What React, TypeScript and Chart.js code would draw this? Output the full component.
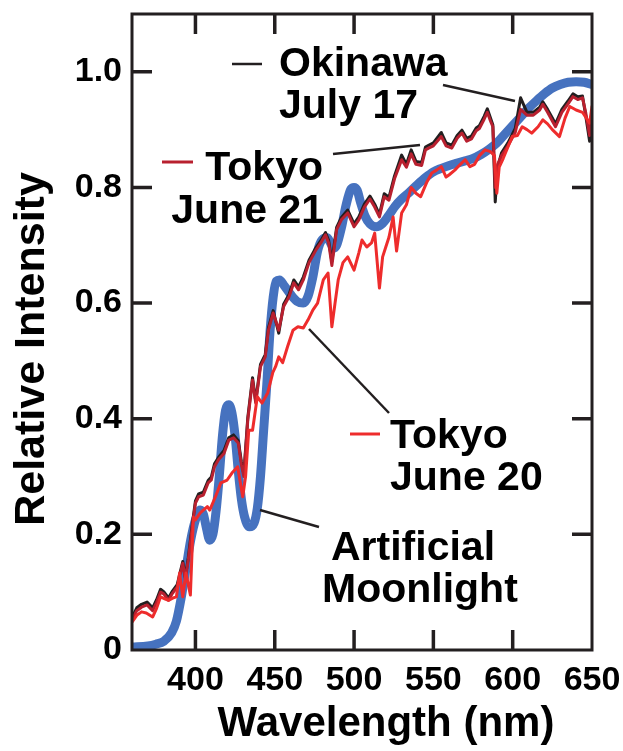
import React, { useEffect, useRef } from 'react';
import { Chart, registerables } from 'chart.js';

Chart.register(...registerables);

const FONT = '"Liberation Sans", Arial, Helvetica, sans-serif';

// Axis ticks
const xTicks = [400, 450, 500, 550, 600, 650];
const yTicks = [0, 0.2, 0.4, 0.6, 0.8, 1.0];

// Artificial Moonlight (blue, thick)
const moonNm = [360, 370, 375, 380, 385, 388, 391, 394, 397, 400, 403, 405, 407, 409, 411, 413, 415, 417, 419, 421, 423, 425, 427, 429, 431, 434, 437, 439, 441, 443, 445, 447, 449, 451, 453, 456, 460, 464, 468, 471, 474, 477, 480, 483, 485, 487, 489, 492, 495, 498, 500, 502, 504, 507, 510, 514, 518, 522, 526, 530, 535, 540, 545, 550, 555, 560, 565, 570, 575, 580, 585, 590, 595, 600, 605, 610, 615, 620, 625, 630, 635, 640, 645, 650];
const moonVal = [0.005, 0.007, 0.01, 0.015, 0.03, 0.05, 0.09, 0.14, 0.19, 0.225, 0.242, 0.235, 0.21, 0.19, 0.2, 0.24, 0.3, 0.37, 0.415, 0.424, 0.41, 0.37, 0.31, 0.26, 0.23, 0.213, 0.22, 0.245, 0.3, 0.38, 0.46, 0.55, 0.61, 0.638, 0.64, 0.63, 0.615, 0.603, 0.6, 0.612, 0.645, 0.69, 0.71, 0.713, 0.705, 0.695, 0.7, 0.73, 0.77, 0.797, 0.8, 0.795, 0.775, 0.75, 0.737, 0.732, 0.738, 0.752, 0.768, 0.78, 0.792, 0.805, 0.817, 0.827, 0.833, 0.838, 0.842, 0.846, 0.85, 0.857, 0.866, 0.877, 0.892, 0.907, 0.922, 0.937, 0.95, 0.962, 0.972, 0.978, 0.982, 0.983, 0.982, 0.978];

// Tokyo June 21 (dark red)
const tokyo21Nm = [360, 363, 366, 369.5, 373, 375.5, 378, 380, 383, 385.5, 388.5, 392, 393.6, 395.5, 398, 400, 402, 405, 408, 410, 412, 414.5, 418, 421, 424, 427, 429, 430.5, 433, 436, 438, 441, 444, 446, 449, 452.5, 455.6, 459, 462, 465, 468, 471.6, 476, 479, 482, 484, 486, 489, 492, 496, 500, 503, 506.5, 510, 513, 516, 519, 522, 525.5, 530, 533, 536, 539, 542.6, 545, 547, 550, 555, 558, 561.6, 565, 568, 571, 574, 577, 579, 582, 584, 586, 587.5, 589, 590.5, 593, 597, 601.6, 605, 609, 613, 617, 619, 622, 625, 627, 631, 635, 638, 641, 644, 646, 648.5, 650];
const tokyo21Val = [0.052, 0.068, 0.074, 0.078, 0.068, 0.082, 0.1, 0.097, 0.086, 0.098, 0.109, 0.15, 0.122, 0.156, 0.213, 0.254, 0.265, 0.268, 0.289, 0.294, 0.317, 0.329, 0.34, 0.363, 0.367, 0.358, 0.32, 0.3, 0.398, 0.467, 0.427, 0.49, 0.507, 0.553, 0.583, 0.553, 0.594, 0.611, 0.635, 0.623, 0.64, 0.67, 0.692, 0.704, 0.718, 0.704, 0.665, 0.727, 0.744, 0.756, 0.732, 0.744, 0.766, 0.78, 0.766, 0.749, 0.784, 0.778, 0.815, 0.848, 0.835, 0.858, 0.84, 0.838, 0.865, 0.868, 0.872, 0.888, 0.872, 0.868, 0.885, 0.894, 0.88, 0.884, 0.898, 0.902, 0.918, 0.93, 0.915, 0.905, 0.8, 0.84, 0.855, 0.872, 0.895, 0.935, 0.925, 0.925, 0.934, 0.944, 0.93, 0.915, 0.905, 0.93, 0.945, 0.957, 0.952, 0.955, 0.93, 0.89, 0.93];

// Okinawa July 17 (black)
const okinawaNm = [360, 363, 366, 369.5, 373, 375.5, 378, 380, 383, 385.5, 388.5, 392, 393.6, 395.5, 398, 400, 402, 405, 408, 410, 412, 414.5, 418, 421, 424, 427, 429, 430.5, 433, 436, 438, 441, 444, 446, 449, 452.5, 455.6, 459, 462, 465, 468, 471.6, 476, 479, 482, 484, 486, 489, 492, 496, 500, 503, 506.5, 510, 513, 516, 519, 522, 525.5, 530, 533, 536, 539, 542.6, 545, 547, 550, 555, 558, 561.6, 565, 568, 571, 574, 577, 579, 582, 584, 586, 587.5, 589, 590.5, 593, 597, 601.6, 605, 609, 613, 617, 619, 622, 625, 627, 631, 635, 638, 641, 644, 646, 648.5, 650];
const okinawaVal = [0.056, 0.073, 0.079, 0.083, 0.073, 0.087, 0.105, 0.101, 0.09, 0.102, 0.113, 0.153, 0.126, 0.16, 0.217, 0.258, 0.27, 0.273, 0.293, 0.299, 0.322, 0.333, 0.345, 0.367, 0.372, 0.362, 0.325, 0.305, 0.402, 0.471, 0.43, 0.494, 0.511, 0.557, 0.587, 0.548, 0.598, 0.615, 0.64, 0.628, 0.645, 0.674, 0.696, 0.708, 0.722, 0.708, 0.672, 0.731, 0.748, 0.761, 0.737, 0.749, 0.771, 0.785, 0.771, 0.753, 0.789, 0.783, 0.82, 0.856, 0.84, 0.865, 0.845, 0.843, 0.87, 0.873, 0.877, 0.895, 0.877, 0.873, 0.89, 0.899, 0.885, 0.889, 0.903, 0.907, 0.923, 0.936, 0.92, 0.908, 0.775, 0.835, 0.86, 0.877, 0.902, 0.955, 0.93, 0.93, 0.939, 0.948, 0.935, 0.92, 0.91, 0.935, 0.95, 0.962, 0.957, 0.958, 0.925, 0.88, 0.925];

// Tokyo June 20 (bright red)
const tokyo20Nm = [360, 363, 366, 369, 373, 375.5, 378, 381, 383, 386, 388, 390, 392, 394, 396.8, 398.7, 400, 403, 407.5, 409, 412.6, 416, 420, 423, 426.6, 429.8, 431.6, 433.6, 436, 439, 442, 445.6, 448.8, 450.5, 452.5, 455, 458, 461.5, 464.6, 468, 471, 474, 477, 480.6, 483.6, 486, 488, 490, 493, 496, 500, 503, 505, 508, 511, 513, 516, 518, 520, 522, 524.6, 526.8, 530, 533, 536, 539, 542, 546, 549, 552, 555, 558, 560, 563.5, 567, 570, 573, 576, 579, 582.6, 586, 588.5, 590, 591.5, 594, 597, 599.7, 603, 606, 609, 612, 616, 619, 622, 625, 629.5, 633, 636, 640, 644, 648.5, 650];
const tokyo20Val = [0.048, 0.06, 0.066, 0.064, 0.057, 0.072, 0.092, 0.088, 0.086, 0.09, 0.092, 0.133, 0.092, 0.133, 0.095, 0.23, 0.225, 0.237, 0.248, 0.242, 0.265, 0.289, 0.294, 0.306, 0.317, 0.265, 0.3, 0.38, 0.38, 0.438, 0.427, 0.445, 0.48, 0.49, 0.507, 0.497, 0.524, 0.553, 0.559, 0.557, 0.571, 0.588, 0.6, 0.64, 0.652, 0.559, 0.6, 0.64, 0.67, 0.68, 0.657, 0.687, 0.709, 0.697, 0.704, 0.721, 0.626, 0.68, 0.697, 0.714, 0.749, 0.69, 0.756, 0.77, 0.8, 0.79, 0.784, 0.81, 0.825, 0.83, 0.836, 0.818, 0.822, 0.83, 0.84, 0.848, 0.836, 0.84, 0.855, 0.865, 0.862, 0.855, 0.79, 0.835, 0.85, 0.87, 0.888, 0.89, 0.905, 0.9, 0.894, 0.905, 0.917, 0.91, 0.9, 0.888, 0.92, 0.94, 0.934, 0.93, 0.911, 0.94];

const pts = (xs: number[], ys: number[]) => xs.map((x, i) => ({ x, y: ys[i] }));

const INK = '#231f20';

const framePlugin = {
  id: 'frameAndNotes',
  afterDraw(chart: any) {
    const { ctx, chartArea, scales } = chart;
    const { left, right, top, bottom } = chartArea;
    const xs = scales.x;
    const ys = scales.y;
    ctx.save();
    // frame
    ctx.strokeStyle = INK;
    ctx.lineWidth = 3;
    ctx.strokeRect(left, top, right - left, bottom - top);
    // inward ticks
    const tl = 20;
    ctx.lineWidth = 3.5;
    ctx.beginPath();
    xTicks.forEach((v) => {
      const px = xs.getPixelForValue(v);
      if (px > right - 3) return;
      ctx.moveTo(px, bottom);
      ctx.lineTo(px, bottom - tl);
      ctx.moveTo(px, top);
      ctx.lineTo(px, top + tl);
    });
    yTicks.forEach((v) => {
      if (v === 0) return;
      const py = ys.getPixelForValue(v);
      ctx.moveTo(left, py);
      ctx.lineTo(left + tl, py);
      ctx.moveTo(right, py);
      ctx.lineTo(right - tl, py);
    });
    ctx.stroke();

    // annotations: swatches and leader lines
    const seg = (x1: number, y1: number, x2: number, y2: number, color: string, w: number) => {
      ctx.beginPath();
      ctx.strokeStyle = color;
      ctx.lineWidth = w;
      ctx.moveTo(x1, y1);
      ctx.lineTo(x2, y2);
      ctx.stroke();
    };
    seg(232, 64, 262, 64, INK, 2.5);
    seg(162, 162, 193, 162, '#b8202f', 3);
    seg(350, 434, 380, 434, '#ee2c2c', 3);
    seg(443, 85, 515, 101, INK, 2.5);
    seg(333, 154, 420, 145, INK, 2.5);
    seg(309, 329, 389, 413, INK, 2.5);
    seg(260, 510, 319, 527, INK, 2.5);

    ctx.fillStyle = '#000';
    ctx.font = `bold 41px ${FONT}`;
    ctx.textBaseline = 'alphabetic';
    ctx.textAlign = 'left';
    ctx.fillText('Okinawa', 279, 76);
    ctx.fillText('July 17', 279, 118);
    ctx.fillText('Tokyo', 390, 448);
    ctx.fillText('June 20', 390, 490);
    ctx.fillText('Artificial', 331, 560);
    ctx.fillText('Moonlight', 322, 602);
    ctx.textAlign = 'right';
    ctx.fillText('Tokyo', 323, 180);
    ctx.fillText('June 21', 324, 223);

    // axis titles
    ctx.font = `bold 42px ${FONT}`;
    ctx.textAlign = 'center';
    ctx.fillText('Wavelength (nm)', 386, 736);
    ctx.font = `bold 43px ${FONT}`;
    ctx.save();
    ctx.translate(44, 349);
    ctx.rotate(-Math.PI / 2);
    ctx.fillText('Relative Intensity', 0, 0);
    ctx.restore();
    ctx.restore();
  },
};

export default function App() {
  const ref = useRef<HTMLCanvasElement | null>(null);
  useEffect(() => {
    document.body.style.margin = '0';
    const canvas = ref.current;
    if (!canvas) return;
    const tickFont = { family: FONT, size: 34, weight: 'bold' as const };
    const line = (label: string, data: any, color: string, width: number, extra: any = {}) => ({
      label,
      data,
      borderColor: color,
      backgroundColor: color,
      borderWidth: width,
      pointRadius: 0,
      fill: false,
      tension: 0,
      borderJoinStyle: 'round' as const,
      borderCapStyle: 'round' as const,
      ...extra,
    });
    const zeroPad = (s: any) => {
      s.paddingTop = 0;
      s.paddingBottom = 0;
      s.paddingLeft = 0;
      s.paddingRight = 0;
    };
    const chart = new Chart(canvas, {
      type: 'line',
      data: {
        datasets: [
          line('Tokyo June 20', pts(tokyo20Nm, tokyo20Val), '#ee2c2c', 3),
          line('Tokyo June 21', pts(tokyo21Nm, tokyo21Val), '#b8202f', 3),
          line('Okinawa July 17', pts(okinawaNm, okinawaVal), INK, 3),
          line('Artificial Moonlight', pts(moonNm, moonVal), '#4672bf', 9, { cubicInterpolationMode: 'monotone' }),
        ],
      },
      options: {
        animation: false,
        responsive: false,
        devicePixelRatio: 1,
        layout: { padding: { top: 14, right: 31, left: 0, bottom: 0 } },
        plugins: { legend: { display: false }, tooltip: { enabled: false }, title: { display: false } },
        scales: {
          x: {
            type: 'linear',
            min: 360,
            max: 650,
            afterBuildTicks: (s: any) => {
              s.ticks = xTicks.map((v) => ({ value: v }));
            },
            afterFit: (s: any) => {
              s.height = 101;
              zeroPad(s);
            },
            grid: { display: false, drawTicks: false },
            border: { display: false },
            ticks: {
              padding: 10,
              autoSkip: false,
              maxRotation: 0,
              color: '#000',
              font: tickFont,
              callback: (v: any) => String(v),
            },
          },
          y: {
            type: 'linear',
            min: 0,
            max: 1.1,
            afterBuildTicks: (s: any) => {
              s.ticks = yTicks.map((v) => ({ value: v }));
            },
            afterFit: (s: any) => {
              s.width = 132;
              zeroPad(s);
            },
            grid: { display: false, drawTicks: false },
            border: { display: false },
            ticks: {
              padding: 10,
              autoSkip: false,
              color: '#000',
              font: tickFont,
              callback: (v: any) => (Number(v) === 0 ? '0' : Number(v).toFixed(1)),
            },
          },
        },
      },
      plugins: [framePlugin],
    });
    return () => chart.destroy();
  }, []);
  return <canvas ref={ref} width={623} height={751} style={{ display: 'block' }} />;
}
